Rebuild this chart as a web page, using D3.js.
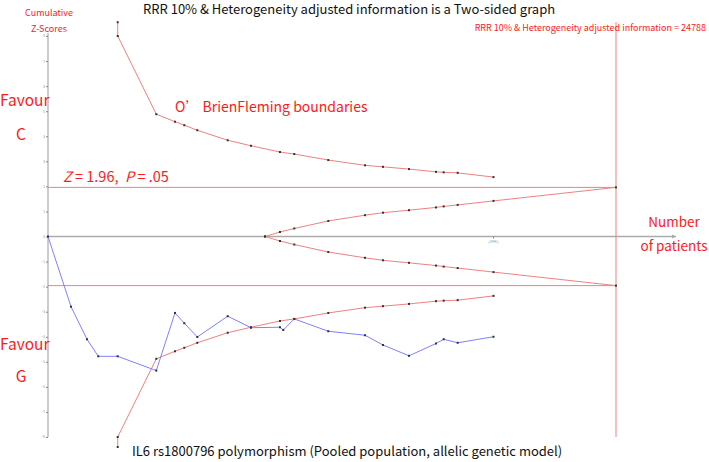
<!DOCTYPE html>
<html><head><meta charset="utf-8">
<script src="https://cdn.jsdelivr.net/npm/d3@7"></script>
<style>html,body{margin:0;padding:0;background:#fff;}svg{display:block;font-family:"Noto Sans CJK SC","Noto Sans",sans-serif;}</style>
</head><body>
<svg id="c" width="709" height="462"></svg>
<script>
// Cumulative Z-curve (blue)
const zPatients = [0, 1004, 1702, 2195, 3042, 4726, 5542, 5948, 6515, 7842, 8859, 10124, 10268, 10748, 12232, 13834, 14619, 15754, 16932, 17268, 17879, 19441];
const zValues   = [0, -2.8, -4.1, -4.78, -4.78, -5.35, -3.05, -3.46, -4.01, -3.18, -3.64, -3.62, -3.73, -3.29, -3.78, -3.94, -4.33, -4.76, -4.27, -4.1, -4.24, -4.0];
// O'Brien-Fleming efficacy boundaries
const bPatients = [3042, 3042, 4726, 5542, 5948, 6515, 7842, 8859, 10124, 10748, 12232, 13834, 14619, 15754, 16932, 17268, 17879, 19441];
const bUpper    = [8.55, 8, 4.88, 4.58, 4.44, 4.24, 3.84, 3.62, 3.37, 3.29, 3.05, 2.84, 2.78, 2.69, 2.58, 2.56, 2.54, 2.37];
const bLower    = [-8.4, -8, -4.88, -4.58, -4.44, -4.24, -3.84, -3.62, -3.37, -3.29, -3.05, -2.84, -2.78, -2.69, -2.58, -2.56, -2.54, -2.37];
// Futility (inner wedge) boundaries
const fPatients = [9470, 10124, 10748, 12232, 13834, 14619, 15754, 16932, 17268, 17879, 19441, 24788];
const fUpper    = [0, 0.18, 0.32, 0.62, 0.85, 0.95, 1.05, 1.16, 1.2, 1.26, 1.42, 1.96];
const fLower    = [0, -0.18, -0.32, -0.62, -0.85, -0.95, -1.05, -1.16, -1.2, -1.26, -1.42, -1.96];
const yTicks = [-8,-7,-6,-5,-4,-3,-2,-1,0,1,2,3,4,5,6,7,8];
const RIS = 24788;
const finalN = 19441;

const svg = d3.select("#c");
const x = d3.scaleLinear().domain([0, RIS]).range([48, 616]);
const y = d3.scaleLinear().domain([-8, 8]).range([437, 36]);
const red = "#f08080", redT = "#ff1a1a", blue = "#8080ff";

// y axis
const yAx = svg.append("g").attr("transform","translate(48,0)")
  .call(d3.axisLeft(y).tickValues(yTicks).tickSize(2).tickFormat(d3.format("d")));
yAx.select(".domain").attr("stroke","#999").attr("d","M0,33V437");
yAx.selectAll(".tick line").attr("stroke","#888");
yAx.selectAll(".tick text").attr("font-size",3).attr("fill","#888").attr("x",-3);

// x axis
svg.append("line").attr("x1",48).attr("x2",676).attr("y1",y(0)).attr("y2",y(0)).attr("stroke","#aaa").attr("stroke-width",1.3);
svg.append("path").attr("d",`M676,${y(0)}l-4,-2v4z`).attr("fill","#aaa");
svg.append("line").attr("x1",x(finalN)).attr("x2",x(finalN)).attr("y1",y(0)).attr("y2",y(0)+2).attr("stroke","#888");
svg.append("text").attr("x",x(finalN)).attr("y",y(0)+6).attr("text-anchor","middle").attr("font-size",3).attr("fill","#888").text("("+finalN+")");

// ±1.96 lines
[1.96,-1.96].forEach(v=>svg.append("line").attr("x1",48).attr("x2",x(RIS)).attr("y1",y(v)).attr("y2",y(v)).attr("stroke",red).attr("stroke-width",1));
// RIS vertical line
svg.append("line").attr("x1",x(RIS)).attr("x2",x(RIS)).attr("y1",22).attr("y2",y(-8)).attr("stroke",red).attr("stroke-width",1);

const line = d3.line();
function drawSeries(xs, ys, color){
  const pts = xs.map((d,i)=>[x(d), y(ys[i])]);
  svg.append("path").attr("d",line(pts)).attr("fill","none").attr("stroke",color).attr("stroke-width",1);
  svg.append("g").selectAll("rect").data(pts).join("rect")
    .attr("x",d=>d[0]-1).attr("y",d=>d[1]-1).attr("width",2).attr("height",2).attr("fill","#333");
}
drawSeries(bPatients, bUpper, red);
drawSeries(bPatients, bLower, red);
drawSeries(fPatients, fUpper, red);
drawSeries(fPatients, fLower, red);
drawSeries(zPatients, zValues, blue);

// texts
function t(xp, yp, s, size, fill, anchor){
  return svg.append("text").attr("x",xp).attr("y",yp).attr("font-size",size).attr("fill",fill).attr("text-anchor",anchor||"start").text(s);
}
t(143,14,"RRR 10% & Heterogeneity adjusted information is a Two-sided graph",13,"#111","start");
t(49,16,"Cumulative",9,redT,"middle");
t(49,32,"Z-Scores",9,redT,"middle");
t(706,31,"RRR 10% & Heterogeneity adjusted information = 24788",9,redT,"end");
t(0,106,"Favour",15.5,redT,"start");
t(21,140,"C",15.5,redT,"middle");
t(175,112,"O’ BrienFleming boundaries",14,redT,"start");
const zt = svg.append("text").attr("x",63).attr("y",182).attr("font-size",14.5).attr("fill",redT).style("white-space","pre");
zt.append("tspan").attr("font-style","italic").text("Z");
zt.append("tspan").text(" = 1.96,  ");
zt.append("tspan").attr("font-style","italic").text("P");
zt.append("tspan").text(" = .05");
t(674,227,"Number",13.5,redT,"middle");
t(674,251,"of patients",13.5,redT,"middle");
t(0,350,"Favour",15.5,redT,"start");
t(21,382,"G",15.5,redT,"middle");
t(132,456,"IL6 rs1800796 polymorphism (Pooled population, allelic genetic model)",13,"#111","start");
</script>
</body></html>
